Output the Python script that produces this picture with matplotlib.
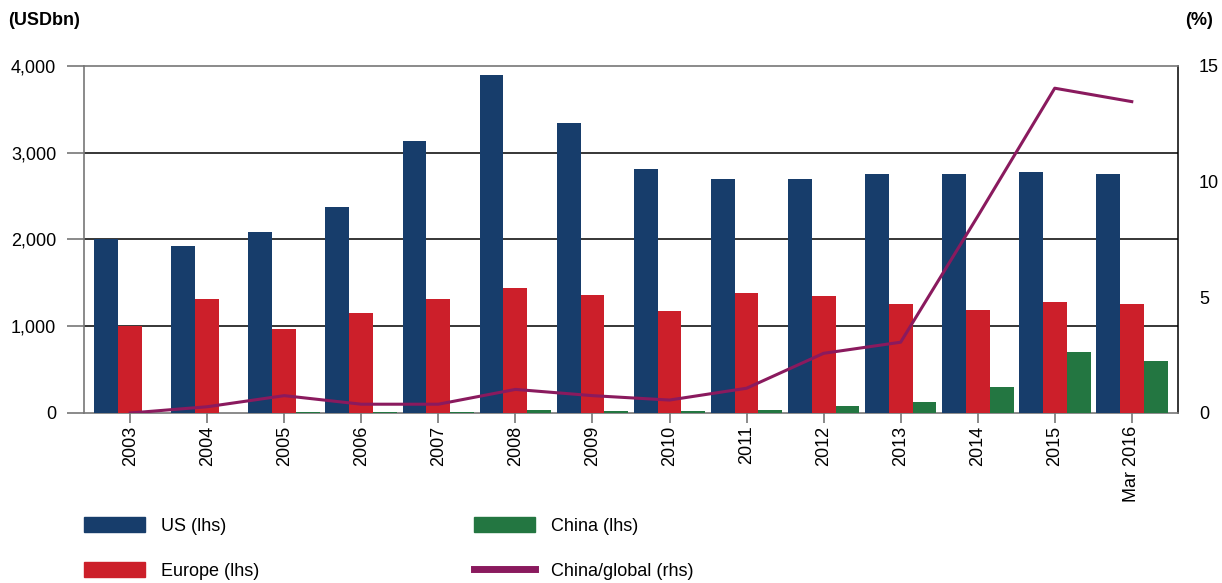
import matplotlib.pyplot as plt
import numpy as np
from matplotlib.patches import Patch
from matplotlib.lines import Line2D

plt.rcParams['font.family'] = ['Liberation Sans', 'DejaVu Sans']

years = ['2003', '2004', '2005', '2006', '2007', '2008', '2009', '2010',
         '2011', '2012', '2013', '2014', '2015', 'Mar 2016']
us = [2000, 1920, 2090, 2370, 3140, 3900, 3340, 2810, 2700, 2700, 2750, 2750, 2780, 2750]
europe = [1000, 1310, 970, 1150, 1310, 1440, 1360, 1176, 1383, 1349, 1256, 1187, 1280, 1256]
china = [0, 3, 15, 15, 15, 35, 25, 20, 35, 80, 127, 305, 700, 600]
china_global = [0.0, 0.27, 0.75, 0.38, 0.38, 1.02, 0.75, 0.56, 1.07, 2.58, 3.06, 8.5, 14.04, 13.46]

c_us = '#173d6b'
c_eu = '#cc1f2a'
c_cn = '#237641'
c_line = '#8a1a5e'
grey = '#777777'

fig = plt.figure(figsize=(12.22, 5.83), dpi=100)
ax = fig.add_axes([0.0687, 0.2916, 0.8953, 0.5952])
x = np.arange(len(years))
w = 0.31

ax.bar(x - w, us, w, color=c_us, zorder=3)
ax.bar(x, europe, w, color=c_eu, zorder=3)
ax.bar(x + w, china, w, color=c_cn, zorder=3)

ax.set_xlim(-0.6, len(years) - 0.4)
ax.set_ylim(0, 4000)
ax.set_yticks([0, 1000, 2000, 3000, 4000])
ax.set_yticklabels(['0', '1,000', '2,000', '3,000', '4,000'], fontsize=13)
ax.set_xticks(x)
ax.set_xticklabels(years, rotation=90, fontsize=13)
for y in [1000, 2000, 3000]:
    ax.axhline(y, color='black', lw=1.1, zorder=1)

ax.tick_params(axis='y', length=12, color=grey, pad=8, width=1.2)
ax.tick_params(axis='x', length=7, color=grey, pad=2, width=1.2)
for s in ['left', 'bottom', 'top']:
    ax.spines[s].set_color(grey)
    ax.spines[s].set_linewidth(1.2)
ax.spines['right'].set_color('black')
ax.spines['right'].set_linewidth(1.1)

ax2 = ax.twinx()
ax2.plot(x, china_global, color=c_line, lw=2.2, zorder=5)
ax2.set_ylim(0, 15)
ax2.set_yticks([0, 5, 10, 15])
ax2.set_yticklabels(['0', '5', '10', '15'], fontsize=13)
ax2.tick_params(axis='y', length=0, pad=15)
for s in ['left', 'bottom', 'top', 'right']:
    ax2.spines[s].set_visible(False)

fig.text(0.007, 0.965, '(USDbn)', fontsize=13, fontweight='bold', va='center')
fig.text(0.993, 0.965, '(%)', fontsize=13, fontweight='bold', va='center', ha='right')

handles = [Patch(color=c_us, label='US (lhs)'),
           Patch(color=c_eu, label='Europe (lhs)'),
           Patch(color=c_cn, label='China (lhs)'),
           Line2D([0], [0], color=c_line, lw=5, label='China/global (rhs)')]
fig.legend(handles=handles, loc='lower left', bbox_to_anchor=(0.0555, -0.022), ncol=2,
           frameon=False, fontsize=13, handlelength=3.4, handleheight=0.9,
           columnspacing=11.9, labelspacing=1.5, handletextpad=0.85)

fig.savefig('out.png', dpi=100)
